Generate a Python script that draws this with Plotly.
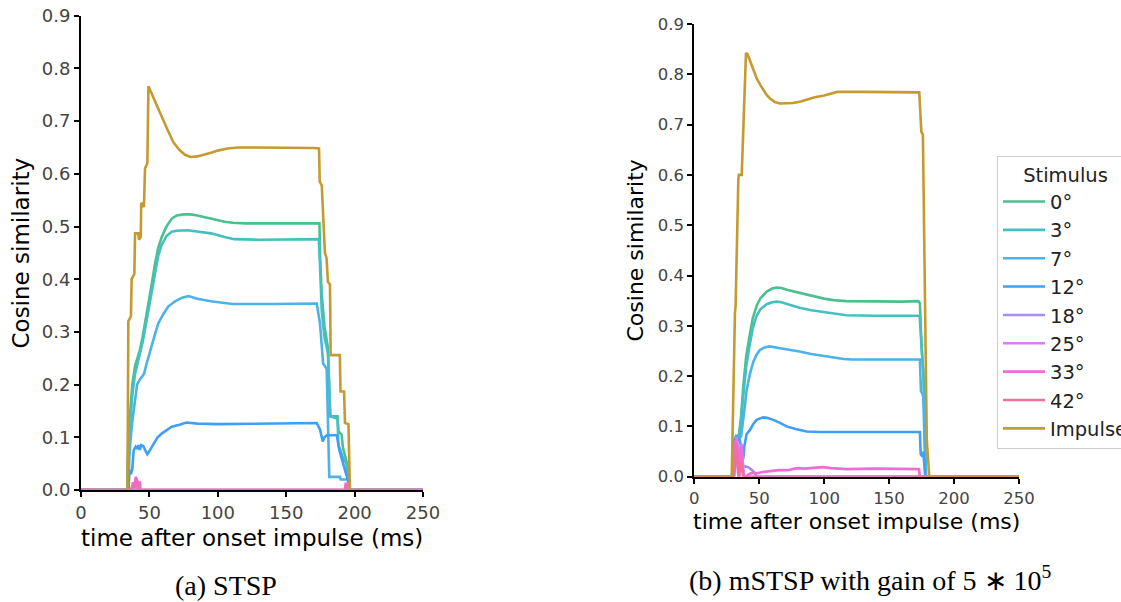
import plotly.graph_objects as go

W, H = 1121, 602

# ---------------- data: (a) STSP ----------------
a_t_0 = [0, 33.8, 34.6, 35.8, 37.5, 39.5, 41.5, 43, 45, 46.8, 48.5, 50.4, 52, 54, 56.5, 59, 62.5, 66.3, 70, 75, 80, 85, 90, 95, 100, 105, 111, 120, 140, 160, 174.3, 174.8, 176, 178, 180.5, 182.2, 187.5, 188.2, 190.5, 191.5, 194.5, 196.3, 250]
a_v_0 = [0, 0, 0.10, 0.15, 0.20, 0.235, 0.25, 0.265, 0.29, 0.315, 0.34, 0.37, 0.395, 0.428, 0.46, 0.48, 0.50, 0.515, 0.521, 0.523, 0.523, 0.521, 0.518, 0.515, 0.512, 0.509, 0.507, 0.506, 0.506, 0.506, 0.506, 0.44, 0.37, 0.31, 0.27, 0.14, 0.14, 0.112, 0.105, 0.08, 0.05, 0, 0]

a_t_3 = [0, 33.8, 34.6, 35.8, 37.5, 39.5, 41.5, 43, 45, 46.8, 48.5, 50.4, 52, 54, 56.5, 59, 62.5, 66.3, 70, 78, 85, 95, 105, 112, 130, 173.8, 174.5, 176, 178, 180.5, 182.2, 187.5, 188.2, 191.7, 194, 196, 250]
a_v_3 = [0, 0, 0.08, 0.13, 0.18, 0.22, 0.24, 0.255, 0.28, 0.305, 0.33, 0.36, 0.385, 0.415, 0.445, 0.465, 0.482, 0.49, 0.492, 0.493, 0.49, 0.487, 0.48, 0.476, 0.475, 0.476, 0.44, 0.34, 0.29, 0.26, 0.14, 0.135, 0.085, 0.06, 0.05, 0, 0]

a_t_7 = [0, 34.8, 35.3, 36, 37.5, 39.5, 41, 43, 44.4, 46, 48, 50, 51.7, 54, 56.5, 60, 63.8, 68.7, 74, 78.5, 85, 95, 105, 111, 140, 172.3, 174.7, 177, 179.6, 181.5, 189.3, 189.8, 195.4, 196, 250]
a_v_7 = [0, 0, 0.06, 0.09, 0.13, 0.171, 0.20, 0.21, 0.215, 0.22, 0.24, 0.26, 0.272, 0.295, 0.316, 0.333, 0.348, 0.358, 0.365, 0.368, 0.363, 0.358, 0.355, 0.353, 0.353, 0.354, 0.316, 0.24, 0.23, 0.025, 0.025, 0.02, 0.02, 0, 0]

a_t_12 = [0, 34.8, 35.3, 36.5, 37.5, 38.5, 40, 41, 42, 43, 44, 45.6, 47, 48.5, 49.5, 51.7, 54, 56, 59, 63, 66.3, 72, 77, 85, 100, 172.3, 174.7, 176.7, 178, 179.6, 187, 188.8, 191.8, 194, 195.5, 196.2, 250]
a_v_12 = [0, 0, 0.038, 0.03, 0.04, 0.075, 0.082, 0.078, 0.085, 0.076, 0.085, 0.083, 0.075, 0.068, 0.072, 0.082, 0.09, 0.10, 0.107, 0.115, 0.12, 0.124, 0.128, 0.126, 0.125, 0.127, 0.115, 0.092, 0.10, 0.104, 0.104, 0.076, 0.05, 0.03, 0.015, 0, 0]

a_t_18 = [0, 36.5, 37.5, 38.5, 250]
a_v_18 = [0, 0, 0.008, 0, 0]

a_t_25 = [0, 39, 40, 41, 250]
a_v_25 = [0, 0, 0.01, 0, 0]

a_t_33 = [0, 37, 38, 39, 40, 41, 42, 43, 43.5, 192.8, 193.5, 195, 195.6, 250]
a_v_33 = [0, 0, 0.015, 0.008, 0.025, 0.02, 0.012, 0.016, 0, 0, 0.012, 0.012, 0, 0]

a_t_42 = [0, 37.5, 38.5, 39.5, 40.5, 42, 43, 193, 194, 195, 250]
a_v_42 = [0, 0, 0.01, 0.005, 0.015, 0.005, 0, 0, 0.008, 0, 0]

a_t_imp = [0, 34.0, 34.6, 36.5, 37.0, 39.0, 39.5, 41.9, 42.3, 43.7, 44.0, 46.0, 46.8, 47.5, 48.5, 49.3, 52, 55, 59, 63, 67.5, 72, 76, 80, 85, 90, 95, 100, 107, 115, 130, 150, 170, 174.0, 174.5, 176.0, 178.3, 179.5, 180.5, 182.0, 182.5, 189.2, 189.7, 192.3, 193.0, 195.5, 196.6, 250]
a_v_imp = [0, 0, 0.32, 0.33, 0.40, 0.41, 0.487, 0.487, 0.475, 0.48, 0.545, 0.537, 0.61, 0.615, 0.62, 0.766, 0.75, 0.73, 0.708, 0.685, 0.66, 0.645, 0.636, 0.632, 0.633, 0.636, 0.64, 0.644, 0.648, 0.65, 0.65, 0.65, 0.649, 0.648, 0.585, 0.578, 0.45, 0.44, 0.395, 0.39, 0.256, 0.256, 0.187, 0.187, 0.127, 0.125, 0, 0]

# ---------------- data: (b) mSTSP ----------------
b_t_0 = [0, 30.5, 31.5, 32.6, 34.5, 36, 37.7, 40, 42.9, 45, 48, 51, 55.7, 60, 63.4, 67, 72, 81, 90, 100, 107, 117, 140, 160, 172.5, 173.7, 175, 176.5, 178.4, 250]
b_v_0 = [0, 0, 0.06, 0.08, 0.085, 0.12, 0.18, 0.24, 0.285, 0.315, 0.34, 0.355, 0.368, 0.374, 0.376, 0.375, 0.371, 0.365, 0.36, 0.354, 0.351, 0.349, 0.348, 0.348, 0.349, 0.345, 0.258, 0.20, 0, 0]

b_t_3 = [0, 30.5, 31.5, 32.6, 34.5, 36, 37.7, 40, 42.9, 45, 48, 51, 55.7, 60, 63.4, 67, 72, 81, 90, 100, 107, 117, 140, 171.5, 173.5, 175, 176.5, 178.2, 250]
b_v_3 = [0, 0, 0.05, 0.075, 0.08, 0.11, 0.16, 0.22, 0.265, 0.295, 0.32, 0.333, 0.343, 0.347, 0.348, 0.347, 0.343, 0.336, 0.331, 0.327, 0.324, 0.321, 0.32, 0.321, 0.32, 0.258, 0.20, 0, 0]

b_t_7 = [0, 30.5, 32.6, 34.5, 36, 38, 40.3, 42.9, 45.4, 48, 50.5, 54, 58, 65, 75, 81, 90, 100, 107, 115, 122, 150, 173.7, 174.5, 175.5, 176.3, 178, 250]
b_v_7 = [0, 0, 0.07, 0.075, 0.08, 0.12, 0.172, 0.205, 0.228, 0.243, 0.252, 0.257, 0.259, 0.256, 0.252, 0.249, 0.244, 0.24, 0.237, 0.234, 0.233, 0.233, 0.233, 0.17, 0.166, 0.16, 0, 0]

b_t_12 = [0, 29.5, 30.5, 32, 35, 36.5, 37.7, 38.5, 40.3, 42.9, 45.4, 48, 51, 53, 56, 60.8, 66, 71, 78, 86.5, 96.8, 110, 173.7, 174.3, 175.8, 176.3, 177.8, 250]
b_v_12 = [0, 0, 0.07, 0.08, 0.073, 0.05, 0.035, 0.06, 0.085, 0.093, 0.105, 0.113, 0.117, 0.118, 0.117, 0.113, 0.107, 0.10, 0.095, 0.09, 0.089, 0.089, 0.089, 0.045, 0.04, 0.05, 0, 0]

b_t_18 = [0, 30, 31.5, 32.6, 33.5, 34.5, 35.5, 36.5, 37.7, 40, 42, 45, 47, 48, 250]
b_v_18 = [0, 0, 0.06, 0.08, 0.06, 0.01, 0.04, 0.045, 0.02, 0.02, 0.018, 0.012, 0.005, 0, 0]

b_t_25 = [0, 30, 31.5, 32.6, 33.5, 34.5, 35.5, 36.5, 37.5, 38.5, 250]
b_v_25 = [0, 0, 0.05, 0.078, 0.05, 0, 0.06, 0.065, 0.02, 0, 0]

b_t_33 = [0, 29.5, 31, 32, 33, 34, 35, 36, 37, 38, 40, 42, 45, 48, 52, 58, 65, 72, 79, 85, 93, 99, 105, 117, 140, 160, 173, 173.7, 250]
b_v_33 = [0, 0, 0.04, 0.075, 0.03, 0, 0.05, 0.06, 0.02, 0, 0, 0.005, 0.008, 0.007, 0.009, 0.011, 0.013, 0.013, 0.017, 0.016, 0.018, 0.019, 0.017, 0.015, 0.016, 0.016, 0.015, 0, 0]

b_t_42 = [0, 30, 31.5, 32.5, 33.5, 34.5, 35.5, 36.5, 37.5, 250]
b_v_42 = [0, 0, 0.03, 0.065, 0.02, 0, 0.03, 0.02, 0, 0]

b_t_imp = [0, 28.8, 31.3, 31.8, 33.9, 34.3, 36.5, 39.8, 41, 42.9, 45, 48, 51, 55.7, 58.3, 62, 66, 70, 76, 82, 88, 92, 100, 106, 110, 130, 150, 165, 173.2, 174.8, 176.0, 179.0, 180.9, 250]
b_v_imp = [0, 0, 0.325, 0.34, 0.59, 0.60, 0.60, 0.842, 0.84, 0.826, 0.81, 0.792, 0.778, 0.759, 0.752, 0.745, 0.742, 0.742, 0.743, 0.746, 0.751, 0.754, 0.758, 0.762, 0.765, 0.765, 0.765, 0.764, 0.764, 0.686, 0.68, 0.073, 0, 0]

series_names = ["0°", "3°", "7°", "12°", "18°", "25°", "33°", "42°", "Impulse"]
series_colors = ["#4bc08e", "#46bfc2", "#4cb2e8", "#3f9ff6", "#a78bf6", "#d87ef2", "#f06bd6", "#f0709e", "#c59a30"]

a_series = [(a_t_0, a_v_0), (a_t_3, a_v_3), (a_t_7, a_v_7), (a_t_12, a_v_12), (a_t_18, a_v_18),
            (a_t_25, a_v_25), (a_t_33, a_v_33), (a_t_42, a_v_42), (a_t_imp, a_v_imp)]
b_series = [(b_t_0, b_v_0), (b_t_3, b_v_3), (b_t_7, b_v_7), (b_t_12, b_v_12), (b_t_18, b_v_18),
            (b_t_25, b_v_25), (b_t_33, b_v_33), (b_t_42, b_v_42), (b_t_imp, b_v_imp)]

x_ticks = [0, 50, 100, 150, 200, 250]
y_ticks = [0.0, 0.1, 0.2, 0.3, 0.4, 0.5, 0.6, 0.7, 0.8, 0.9]

fig = go.Figure()
for (t, v), name, col in zip(a_series, series_names, series_colors):
    fig.add_trace(go.Scatter(x=t, y=v, mode="lines", name=name, showlegend=False,
                             line=dict(color=col, width=2.6), xaxis="x", yaxis="y"))
for (t, v), name, col in zip(b_series, series_names, series_colors):
    fig.add_trace(go.Scatter(x=t, y=v, mode="lines", name=name, showlegend=True,
                             line=dict(color=col, width=2.6), xaxis="x2", yaxis="y2"))


def px_x(p):
    return p / W


def px_y(p):
    return 1 - p / H


def axis_style(tick_size, vals, fmt, domain, anchor, rng):
    return dict(domain=domain, anchor=anchor, range=rng, tickvals=vals, tickformat=fmt,
                showline=True, linecolor="black", linewidth=2, ticks="outside", ticklen=5,
                tickwidth=1.6, tickcolor="black", showgrid=False, zeroline=False,
                layer="above traces",
                tickfont=dict(family="DejaVu Sans", size=tick_size, color="#444444"))


fig.update_layout(
    width=W, height=H,
    margin=dict(l=0, r=0, t=0, b=0, autoexpand=False),
    paper_bgcolor="white", plot_bgcolor="white",
    xaxis=axis_style(18, x_ticks, "d", [px_x(81), px_x(423)], "y", [0, 250]),
    yaxis=axis_style(18, y_ticks, ".1f", [px_y(490), px_y(15.7)], "x", [0, 0.9]),
    xaxis2=axis_style(16.5, x_ticks, "d", [px_x(694.3), px_x(1019)], "y2", [0, 250]),
    yaxis2=axis_style(16.5, y_ticks, ".1f", [px_y(476.7), px_y(24)], "x2", [0, 0.9]),
    legend=dict(x=px_x(997), xanchor="left", y=px_y(156), yanchor="top",
                bordercolor="#cccccc", borderwidth=1, bgcolor="white",
                itemwidth=42,
                font=dict(family="DejaVu Sans", size=19.5, color="#222222"),
                title=dict(text="Stimulus", side="top center",
                           font=dict(family="DejaVu Sans", size=19.5, color="#222222"))),
)

ann = [
    dict(text="Cosine similarity", x=px_x(21), y=px_y(253.5), textangle=-90, size=23),
    dict(text="time after onset impulse (ms)", x=px_x(251.7), y=px_y(538), textangle=0, size=23),
    dict(text="Cosine similarity", x=px_x(635), y=px_y(250.5), textangle=-90, size=22),
    dict(text="time after onset impulse (ms)", x=px_x(856.3), y=px_y(521.7), textangle=0, size=22),
]
for a in ann:
    fig.add_annotation(text=a["text"], x=a["x"], y=a["y"], xref="paper", yref="paper",
                       xanchor="center", yanchor="middle", showarrow=False, textangle=a["textangle"],
                       font=dict(family="DejaVu Sans", size=a["size"], color="black"))

fig.add_annotation(text="(a) STSP", x=px_x(225.8), y=px_y(585), xref="paper", yref="paper",
                   xanchor="center", yanchor="middle", showarrow=False,
                   font=dict(family="Liberation Serif", size=28, color="black"))
fig.add_annotation(text="(b) mSTSP with gain of 5 \u2217 10<sup>5</sup>", x=px_x(870), y=px_y(578),
                   xref="paper", yref="paper", xanchor="center", yanchor="middle", showarrow=False,
                   font=dict(family="Liberation Serif", size=28, color="black"))

fig.write_html("out.html")
